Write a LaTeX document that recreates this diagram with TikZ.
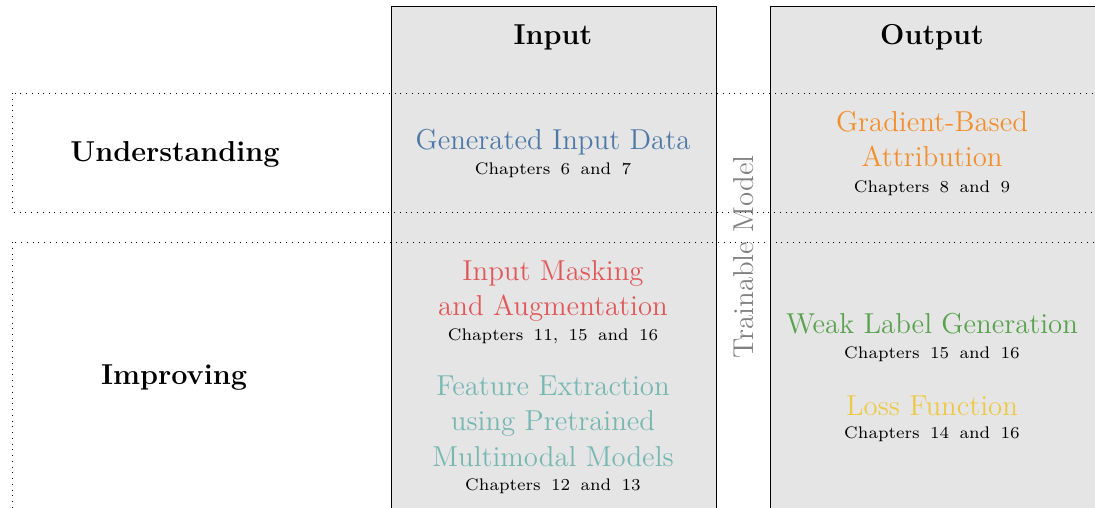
\documentclass[tikz,border=0pt]{standalone}
\usepackage{xcolor}
\definecolor{tabblue}{HTML}{4E79A7}
\definecolor{taborange}{HTML}{F28E2B}
\definecolor{tabred}{HTML}{E15759}
\definecolor{tabteal}{HTML}{76B7B2}
\definecolor{tabgreen}{HTML}{59A14F}
\definecolor{tabyellow}{HTML}{EDC948}
\newcommand{\chapfont}{\scriptsize\spaceskip=4.3pt plus 1pt\relax}
\begin{document}
\begin{tikzpicture}[x=0.4167pt,y=-0.4167pt,
  panel/.style={draw=black, fill=black!10, line width=0.4pt},
  band/.style={draw=black, dotted, line width=0.4pt},
  head/.style={font=\large\bfseries, anchor=base, inner sep=0pt},
  topic/.style={font=\fontsize{12}{14.6}\selectfont, align=center, anchor=base, inner sep=0pt},
  chap/.style={font=\chapfont, anchor=base, inner sep=0pt}]
\useasboundingbox (0,0) rectangle (1095,508);
\clip (0,0) rectangle (1095,508);

% column panels
\draw[panel] (391,6) rectangle (716,530);
\draw[panel] (770,6) rectangle (1110,530);

% row bands
\draw[band] (12,93) rectangle (1110,212);
\draw[band] (12,242) rectangle (1110,540);

% headings
\node[head] (input) at (553,45) {Input};
\node[head] (output) at (932,45) {Output};
\node[head] (under) at (175,162) {Understanding};
\node[head] (impr) at (174,385) {Improving};

% middle label
\node[font=\large, text=black!50, rotate=90, inner sep=0pt] (model) at (744,257) {Trainable Model};

% input column (base anchor = baseline of the last line)
\node[topic, text=tabblue] (gen) at (553,150) {Generated Input Data};
\node[chap] (genc) at (553,175) {Chapters 6 and 7};
\node[topic, text=tabred] (mask) at (553,316) {Input Masking\\and Augmentation};
\node[chap] (maskc) at (553,341) {Chapters 11, 15 and 16};
\node[topic, text=tabteal] (feat) at (553,466) {Feature Extraction\\using Pretrained\\Multimodal Models};
\node[chap] (featc) at (553,490) {Chapters 12 and 13};

% output column
\node[topic, text=taborange] (grad) at (932,167) {Gradient-Based\\Attribution};
\node[chap] (gradc) at (932,193) {Chapters 8 and 9};
\node[topic, text=tabgreen] (weak) at (932,334) {Weak Label Generation};
\node[chap] (weakc) at (932,359) {Chapters 15 and 16};
\node[topic, text=tabyellow] (loss) at (932,415) {Loss Function};
\node[chap] (lossc) at (932,439) {Chapters 14 and 16};
\end{tikzpicture}
\end{document}
